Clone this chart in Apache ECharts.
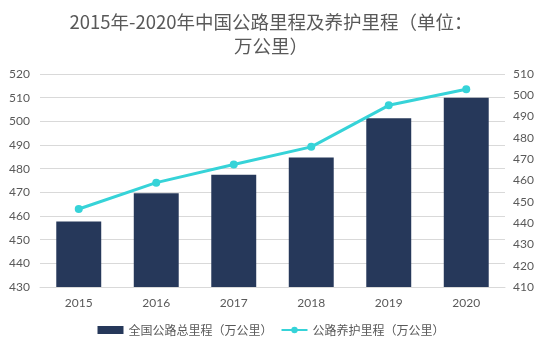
<!DOCTYPE html>
<html><head><meta charset="utf-8">
<script src="https://cdn.jsdelivr.net/npm/echarts@6/dist/echarts.min.js"></script>
<style>html,body{margin:0;padding:0;background:#fff}#c{width:542px;height:361px}</style>
</head><body><div id="c"></div>
<script>
const years = ['2015','2016','2017','2018','2019','2020'];
const totalMileage = [457.7, 469.6, 477.4, 484.7, 501.3, 510.0];
const maintainedMileage = [446.6, 459.0, 467.5, 475.8, 495.3, 502.8];
const leftTicks = {min: 430, max: 520, interval: 10};
const rightTicks = {min: 410, max: 510, interval: 10};
const font = '"Noto Sans CJK SC", "Noto Sans", sans-serif';
const chart = echarts.init(document.getElementById('c'), null, {renderer: 'canvas'});
chart.setOption({
  animation: false,
  textStyle: {fontFamily: font},
  title: {
    text: '2015年-2020年中国公路里程及养护里程（单位：\n万公里）',
    left: 'center', top: 5,
    textStyle: {fontSize: 18.5, fontWeight: 'normal', color: '#595959', fontFamily: font, lineHeight: 24}
  },
  legend: {
    bottom: 20, left: 'center', itemGap: 8, itemWidth: 26, itemHeight: 8,
    textStyle: {fontSize: 12, color: '#595959', fontFamily: font},
    data: [
      {name: '全国公路总里程（万公里）', icon: 'rect'},
      {name: '公路养护里程（万公里）'}
    ]
  },
  grid: {left: 40, right: 37, top: 74, bottom: 74},
  xAxis: {
    type: 'category', data: years,
    axisLine: {show: true, lineStyle: {color: '#D9D9D9'}},
    axisTick: {show: false},
    axisLabel: {color: '#595959', fontSize: 12, margin: 10, fontFamily: 'Lato, sans-serif'}
  },
  yAxis: [
    {type: 'value', min: leftTicks.min, max: leftTicks.max, interval: leftTicks.interval,
     axisLine: {show: false}, axisTick: {show: false},
     axisLabel: {color: '#595959', fontSize: 12, margin: 10, fontFamily: 'Lato, sans-serif'},
     splitLine: {lineStyle: {color: '#D9D9D9'}}},
    {type: 'value', min: rightTicks.min, max: rightTicks.max, interval: rightTicks.interval,
     axisLine: {show: false}, axisTick: {show: false},
     axisLabel: {color: '#595959', fontSize: 12, margin: 8, fontFamily: 'Lato, sans-serif'},
     splitLine: {show: false}}
  ],
  series: [
    {name: '全国公路总里程（万公里）', type: 'bar', data: totalMileage, barWidth: '58%',
     itemStyle: {color: '#26385A'}},
    {name: '公路养护里程（万公里）', type: 'line', yAxisIndex: 1, data: maintainedMileage,
     symbol: 'circle', symbolSize: 8,
     lineStyle: {color: '#36D3D8', width: 3}, itemStyle: {color: '#36D3D8'}}
  ]
});
</script></body></html>
